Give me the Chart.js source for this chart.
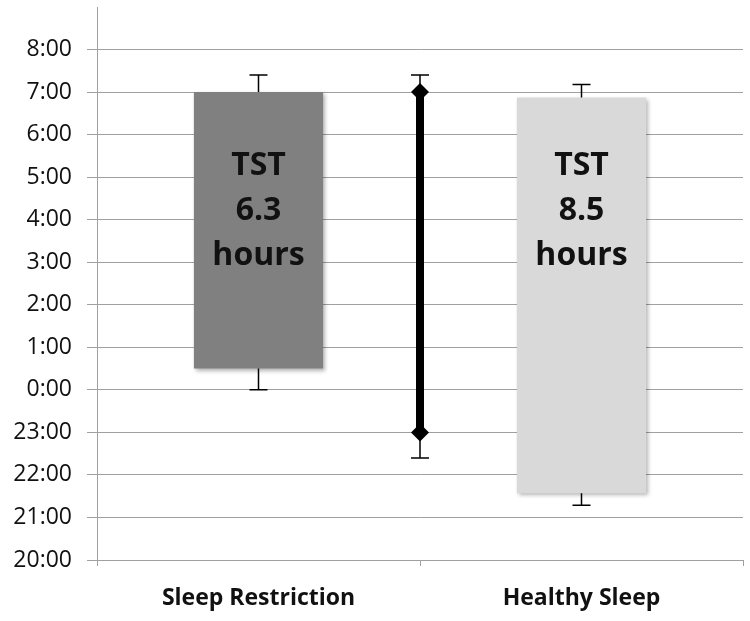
<!DOCTYPE html>
<html>
<head>
<meta charset="utf-8">
<script src="https://cdn.jsdelivr.net/npm/chart.js@4"></script>
<style>
  html, body { margin: 0; padding: 0; background: #fff; }
  #wrap { width: 750px; height: 621px; }
</style>
</head>
<body>
<div id="wrap"><canvas id="chart" width="750" height="621"></canvas></div>
<script>
// hours relative to midnight (negative = evening before)
const categories = ['Sleep Restriction', 'Healthy Sleep'];
const barStart = [0.5, -2.43];
const barEnd = [7.0, 6.87];
const barColors = ['#808080', '#d9d9d9'];
const barErrLow = [0.0, -2.71];
const barErrHigh = [7.4, 7.18];
const tstValues = ['6.3', '8.5'];

// middle line (bedtime to wake)
const lineStart = -1.0;
const lineEnd = 7.0;
const lineErrLow = -1.6;
const lineErrHigh = 7.4;

const yMin = -4, yMax = 9;

function hourLabel(v) {
  if (v === yMax) return '';
  return ((v + 24) % 24) + ':00';
}

const errorBars = {
  id: 'errorBars',
  afterDatasetsDraw(chart) {
    const ctx = chart.ctx;
    const y = chart.scales.y;
    ctx.save();
    ctx.strokeStyle = '#000';
    ctx.lineWidth = 1.5;
    const drawErr = (x, from, to) => {
      ctx.beginPath();
      ctx.moveTo(x, y.getPixelForValue(from));
      ctx.lineTo(x, y.getPixelForValue(to));
      ctx.moveTo(x - 9, y.getPixelForValue(to));
      ctx.lineTo(x + 9, y.getPixelForValue(to));
      ctx.stroke();
    };
    const meta = chart.getDatasetMeta(0);
    meta.data.forEach((bar, i) => {
      drawErr(bar.x, barEnd[i], barErrHigh[i]);
      drawErr(bar.x, barStart[i], barErrLow[i]);
    });
    const lx = chart.scales.x2.getPixelForValue(1);
    drawErr(lx, lineEnd, lineErrHigh);
    drawErr(lx, lineStart, lineErrLow);

    // TST labels inside bars
    ctx.fillStyle = '#111';
    ctx.font = 'bold 32px "Open Sans"';
    ctx.textAlign = 'center';
    ctx.textBaseline = 'middle';
    const mid = y.getPixelForValue(4.2);
    meta.data.forEach((bar, i) => {
      ctx.fillText('TST', bar.x, mid - 45);
      ctx.fillText(tstValues[i], bar.x, mid);
      ctx.fillText('hours', bar.x, mid + 45);
    });
    ctx.restore();
  }
};

const barShadow = {
  id: 'barShadow',
  beforeDatasetDraw(chart, args) {
    if (args.index !== 0) return;
    const ctx = chart.ctx;
    ctx.save();
    ctx.shadowColor = 'rgba(0,0,0,0.3)';
    ctx.shadowBlur = 4;
    ctx.shadowOffsetX = 2;
    ctx.shadowOffsetY = 2;
  },
  afterDatasetDraw(chart, args) {
    if (args.index !== 0) return;
    chart.ctx.restore();
  }
};

new Chart(document.getElementById('chart'), {
  type: 'bar',
  data: {
    labels: categories,
    datasets: [
      {
        type: 'bar',
        data: barStart.map((s, i) => [s, barEnd[i]]),
        backgroundColor: barColors,
        borderWidth: 0,
        grouped: false,
        barPercentage: 0.4,
        categoryPercentage: 1,
        order: 2
      },
      {
        type: 'line',
        xAxisID: 'x2',
        data: [{ x: 1, y: lineStart }, { x: 1, y: lineEnd }],
        borderColor: '#000',
        borderWidth: 8,
        pointStyle: 'rectRot',
        pointRadius: 9,
        pointBorderWidth: 0,
        pointBackgroundColor: '#000',
        order: 1
      }
    ]
  },
  options: {
    responsive: false,
    animation: false,
    layout: { autoPadding: false, padding: { top: 7, right: 7 } },
    plugins: { legend: { display: false }, tooltip: { enabled: false } },
    scales: {
      x: {
        offset: true,
        grid: { offset: true, drawOnChartArea: false, tickLength: 6, color: '#a0a0a0' },
        border: { color: '#a0a0a0' },
        ticks: { color: '#111', font: { family: 'Open Sans', size: 23, weight: 'bold' }, padding: 19 },
        afterFit(scale) {
          scale.height = 61;
          scale.paddingLeft = 0;
          scale.paddingRight = 0;
        }
      },
      x2: {
        type: 'linear',
        min: 0,
        max: 2,
        display: false
      },
      y: {
        min: yMin,
        max: yMax,
        ticks: {
          stepSize: 1,
          callback: hourLabel,
          color: '#111',
          padding: 15,
          font: { family: 'Open Sans', size: 23 }
        },
        grid: {
          tickLength: 10,
          color: c => (c.tick && c.tick.value === yMax) ? 'rgba(0,0,0,0)' : '#a0a0a0'
        },
        border: { color: '#a0a0a0' },
        afterFit(scale) {
          scale.width = 97;
          scale.paddingTop = 0;
          scale.paddingBottom = 0;
        }
      }
    }
  },
  plugins: [barShadow, errorBars]
});
</script>
</body>
</html>
